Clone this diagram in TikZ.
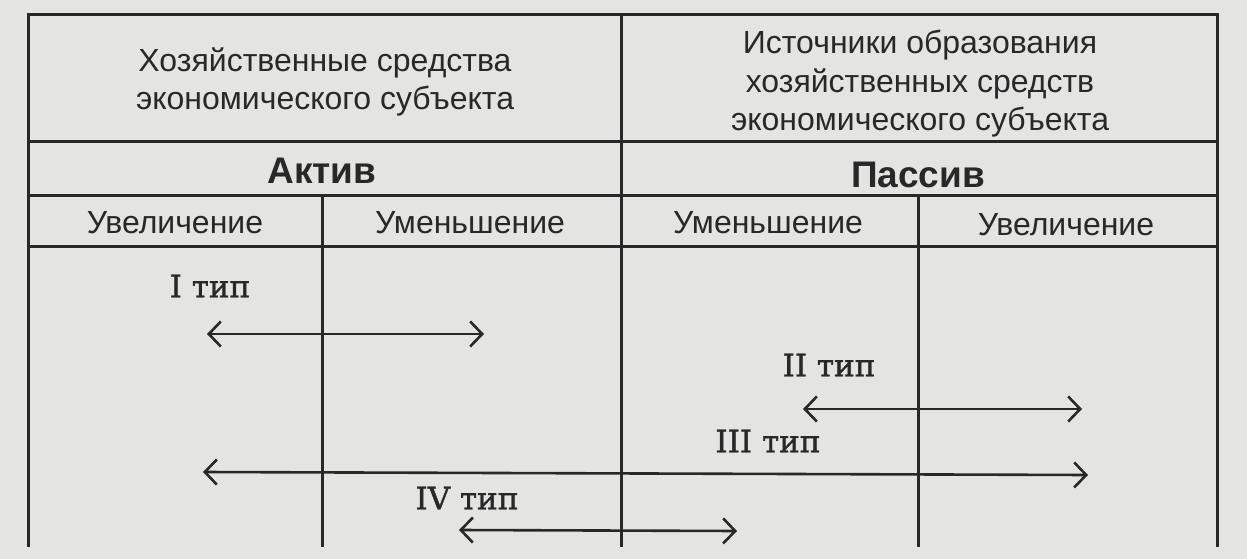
\documentclass[tikz,border=0pt]{standalone}
\usepackage{fontspec}
\setmainfont{Liberation Sans}
\newfontfamily\typefont[FakeBold=1.2]{DejaVu Serif}
\usetikzlibrary{arrows.meta}
\definecolor{paper}{RGB}{228,228,226}
\definecolor{ink}{RGB}{40,40,40}
\tikzset{
  grid/.style={draw=ink, line width=3pt, line cap=rect},
  head/.style={font=\fontsize{32}{38.5}\selectfont, text=ink, align=center, inner sep=0pt},
  bighead/.style={font=\fontsize{37}{40}\selectfont\bfseries, text=ink, inner sep=0pt},
  col/.style={font=\fontsize{32}{36}\selectfont, text=ink, inner sep=0pt},
  typ/.style={font=\typefont\fontsize{31}{36}\selectfont, text=ink, inner sep=0pt},
  flow/.style={draw=ink, line width=2.6pt, {Straight Barb[length=12pt,width=25pt]}-{Straight Barb[length=12pt,width=25pt]}}
}
\begin{document}
\begin{tikzpicture}[x=1pt,y=-1pt]
\useasboundingbox[fill=paper] (0,0) rectangle (1247,559);
% grid
\draw[grid] (28,545) -- (28,15) -- (1217,15) -- (1217,545);
\draw[grid] (621,15) -- (621,545);
\draw[grid] (28,142) -- (1217,142);
\draw[grid] (28,195) -- (1217,195);
\draw[grid] (28,246) -- (1217,246);
\draw[grid] (322,195) -- (322,545);
\draw[grid] (918,195) -- (918,545);
% headers
\node[head] (hl) at (325,82) {Хозяйственные средства\\экономического субъекта};
\node[head] (hr) at (920,84) {Источники образования\\хозяйственных средств\\экономического субъекта};
\node[bighead] (act) at (322,171) {Актив};
\node[bighead] (pas) at (918,175) {Пассив};
\node[col] (c1) at (175,223) {Увеличение};
\node[col] (c2) at (470,223) {Уменьшение};
\node[col] (c3) at (768,223) {Уменьшение};
\node[col] (c4) at (1066,225) {Увеличение};
% type labels
\node[typ] (t1) at (210,286) {I тип};
\node[typ] (t2) at (829,365) {II тип};
\node[typ] (t3) at (768,441) {III тип};
\node[typ] (t4) at (467,498) {IV тип};
% arrow ends
\coordinate (a1l) at (207,334);
\coordinate (a1r) at (484,334);
\coordinate (a2l) at (803,409);
\coordinate (a2r) at (1082,409);
\coordinate (a3l) at (203,472);
\coordinate (a3r) at (1088,475);
\coordinate (a4l) at (459,530);
\coordinate (a4r) at (737,531);
\draw[flow] (a1l) -- (a1r);
\draw[flow] (a2l) -- (a2r);
\draw[flow] (a3l) -- (a3r);
\draw[flow] (a4l) -- (a4r);
\end{tikzpicture}
\end{document}
